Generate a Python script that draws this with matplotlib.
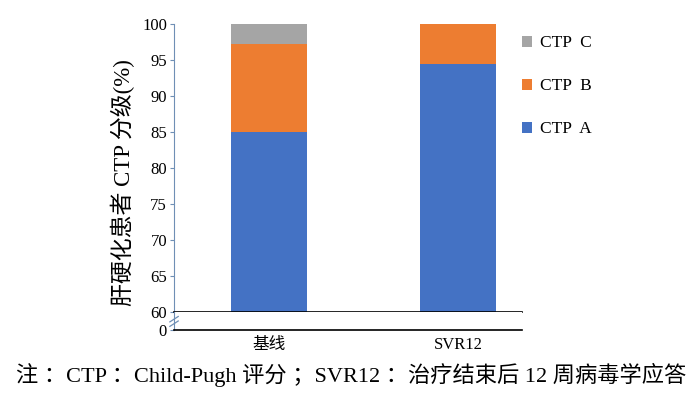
import matplotlib
matplotlib.use("Agg")
import matplotlib.pyplot as plt
import numpy as np

plt.rcParams['font.family'] = ['Liberation Serif', 'Noto Sans CJK SC']

groups = ['基线', 'SVR12']
ctp_a = [85.0, 94.5]
ctp_b = [12.3, 5.5]
ctp_c = [2.7, 0.0]

blue = '#4472C4'
orange = '#ED7D31'
gray = '#A5A5A5'
spine_col = '#6f8fb5'

fig = plt.figure(figsize=(6.99, 3.95), dpi=100)
ax = fig.add_axes([0.249, 0.210, 0.498, 0.729])
ax2 = fig.add_axes([0.249, 0.1646, 0.498, 0.0456])

x = np.arange(len(groups))
w = 0.4
a = np.array(ctp_a)
b = np.array(ctp_b)
c = np.array(ctp_c)
h_a = ax.bar(x, a - 60, w, bottom=60, color=blue, label='CTP  A')
h_b = ax.bar(x, b, w, bottom=a, color=orange, label='CTP  B')
h_c = ax.bar(x, c, w, bottom=a + b, color=gray, label='CTP  C')

xlim = (-0.503, 1.339)
ax.set_xlim(*xlim)
ax.set_ylim(60, 100)
ax.set_yticks(np.arange(60, 101, 5))
ax.set_xticks([])
for s in ['top', 'right']:
    ax.spines[s].set_visible(False)
ax.spines['left'].set_color(spine_col)
ax.spines['bottom'].set_color('black')
ax.spines['bottom'].set_linewidth(1.2)
ax.tick_params(axis='y', direction='out', length=3, color=spine_col,
               labelsize=12, pad=2)

ax2.set_xlim(*xlim)
ax2.set_ylim(0, 1)
ax2.set_yticks([0])
ax2.set_xticks(x)
ax2.set_xticklabels(groups, fontsize=12)
for s in ['top', 'right']:
    ax2.spines[s].set_visible(False)
ax2.spines['left'].set_color(spine_col)
ax2.spines['bottom'].set_color('black')
ax2.spines['bottom'].set_linewidth(1.2)
ax2.tick_params(axis='y', direction='out', length=3, color=spine_col,
                labelsize=12, pad=2)
ax2.tick_params(axis='x', length=0, pad=5)

# break marks on the left axis
for yy in (0.35, 0.6):
    ax2.plot([-0.012, 0.012], [yy - 0.15, yy + 0.15], transform=ax2.transAxes,
             color=spine_col, lw=0.9, clip_on=False)

fig.text(0.176, 0.537, '肝硬化患者 CTP 分级(%)', rotation=90,
         ha='center', va='center', fontsize=16.5)

fig.legend(handles=[h_c, h_b, h_a], labels=['CTP  C', 'CTP  B', 'CTP  A'],
           loc='upper left', bbox_to_anchor=(0.724, 0.95), frameon=False,
           fontsize=12.5, handlelength=0.6, handleheight=0.6, handletextpad=0.45,
           labelspacing=1.55)

fig.text(0.502, 0.05, '注 ：CTP ：Child-Pugh 评分 ；SVR12 ：治疗结束后 12 周病毒学应答',
         ha='center', va='center', fontsize=16)

fig.savefig('out.png', dpi=100)
